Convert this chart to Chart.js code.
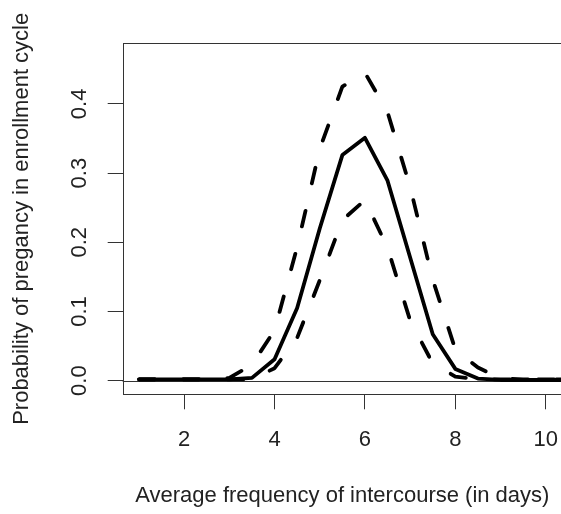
<!DOCTYPE html>
<html>
<head>
<meta charset="utf-8">
<script src="https://cdn.jsdelivr.net/npm/chart.js@4.4.0/dist/chart.umd.min.js"></script>
<style>
  html, body { margin: 0; padding: 0; background: #fff; overflow: hidden; }
  #wrap { width: 561px; height: 514px; overflow: hidden; }
  canvas { display: block; }
</style>
</head>
<body>
<div id="wrap"><canvas id="chart" width="566" height="514"></canvas></div>
<script>
// Average frequency of intercourse (days) where the curves are evaluated;
// the curves run on past the right edge of the plot and are clipped there
const frequency = [1, 1.5, 2, 2.5, 3, 3.5, 4, 4.5, 5, 5.5, 6, 6.5, 7, 7.5, 8, 8.5, 9, 9.5, 10, 10.5, 11];

// Probability of pregnancy: point estimate and band limits
const estimate  = [0.002, 0.002, 0.002, 0.002, 0.002, 0.004, 0.031, 0.105, 0.220, 0.326, 0.351, 0.289, 0.178, 0.067, 0.017, 0.003, 0.001, 0.001, 0.001, 0.001, 0.001];
const upperBand = [0.002, 0.002, 0.002, 0.002, 0.004, 0.023, 0.073, 0.193, 0.335, 0.425, 0.445, 0.388, 0.280, 0.146, 0.045, 0.019, 0.003, 0.002, 0.002, 0.002, 0.002];
const lowerBand = [0.002, 0.002, 0.002, 0.002, 0.002, 0.002, 0.018, 0.062, 0.145, 0.232, 0.261, 0.192, 0.087, 0.025, 0.006, 0.002, 0.002, 0.002, 0.002, 0.002, 0.002];

const xTicks = [2, 4, 6, 8, 10];
const yTicks = [0, 0.1, 0.2, 0.3, 0.4];

const ink = '#222';
const frameColor = '#333';

Chart.defaults.font.family = '"Liberation Sans", Arial, sans-serif';
Chart.defaults.font.size = 22;
Chart.defaults.color = ink;

function toPoints(values) {
    return frequency.map((x, i) => ({ x: x, y: values[i] }));
}

function bandDataset(values) {
    return {
        data: toPoints(values),
        borderColor: '#000',
        borderWidth: 3.8,
        borderDash: [16, 28.2],
        borderCapStyle: 'round',
        borderJoinStyle: 'round',
        pointRadius: 0,
        tension: 0,
        fill: false,
    };
}

// Box around the plot region plus the horizontal reference line at zero
const framePlugin = {
    id: 'frame',
    beforeDatasetsDraw(chart) {
        const { ctx, chartArea, scales } = chart;
        const y0 = Math.round(scales.y.getPixelForValue(0)) + 0.5;
        ctx.save();
        ctx.strokeStyle = frameColor;
        ctx.lineWidth = 1;
        ctx.beginPath();
        ctx.moveTo(chartArea.left, y0);
        ctx.lineTo(chartArea.right + 10, y0);
        ctx.stroke();
        ctx.strokeRect(Math.round(chartArea.left) + 0.5, Math.round(chartArea.top) + 0.5,
            chartArea.right - chartArea.left + 10, Math.round(chartArea.bottom - chartArea.top));
        ctx.restore();
    },
};

new Chart(document.getElementById('chart'), {
    type: 'line',
    data: {
        datasets: [
            bandDataset(upperBand),
            bandDataset(lowerBand),
            {
                data: toPoints(estimate),
                borderColor: '#000',
                borderWidth: 3.8,
                borderJoinStyle: 'round',
                pointRadius: 0,
                tension: 0,
                fill: false,
            },
        ],
    },
    options: {
        responsive: false,
        animation: false,
        devicePixelRatio: 1,
        layout: {
            padding: { top: 43.3, right: 4, left: 0, bottom: 0 },
        },
        plugins: {
            legend: { display: false },
            tooltip: { enabled: false },
        },
        scales: {
            x: {
                type: 'linear',
                position: 'bottom',
                min: 0.64,
                max: 10.36,
                afterBuildTicks: (scale) => {
                    scale.ticks = xTicks.map(v => ({ value: v }));
                },
                afterFit: (scale) => {
                    scale.height = 119.7;
                    // let the last label run past the edge, as in the original
                    scale.paddingLeft = 0;
                    scale.paddingRight = 0;
                },
                ticks: {
                    autoSkip: false,
                    maxRotation: 0,
                    padding: 17.8,
                    color: ink,
                    callback: (v) => String(v),
                },
                grid: {
                    drawOnChartArea: false,
                    drawTicks: true,
                    tickLength: 15,
                    color: frameColor,
                    lineWidth: 1,
                },
                border: { display: false },
                title: {
                    display: true,
                    text: 'Average frequency of intercourse (in days)',
                    color: ink,
                    padding: { top: 0, bottom: 5.3 },
                },
            },
            y: {
                type: 'linear',
                position: 'left',
                min: -0.0197,
                max: 0.4876,
                afterBuildTicks: (scale) => {
                    scale.ticks = yTicks.map(v => ({ value: v }));
                },
                afterFit: (scale) => {
                    scale.width = 122.7;
                },
                ticks: {
                    autoSkip: false,
                    minRotation: 90,
                    maxRotation: 90,
                    crossAlign: 'center',
                    padding: 12.4,
                    color: ink,
                    callback: (v) => v.toFixed(1),
                },
                grid: {
                    drawOnChartArea: false,
                    drawTicks: true,
                    tickLength: 15,
                    color: frameColor,
                    lineWidth: 1,
                },
                border: { display: false },
                title: {
                    display: true,
                    text: 'Probability of pregancy in enrollment cycle',
                    color: ink,
                    padding: { top: 9, bottom: 0 },
                },
            },
        },
    },
    plugins: [framePlugin],
});
</script>
</body>
</html>
